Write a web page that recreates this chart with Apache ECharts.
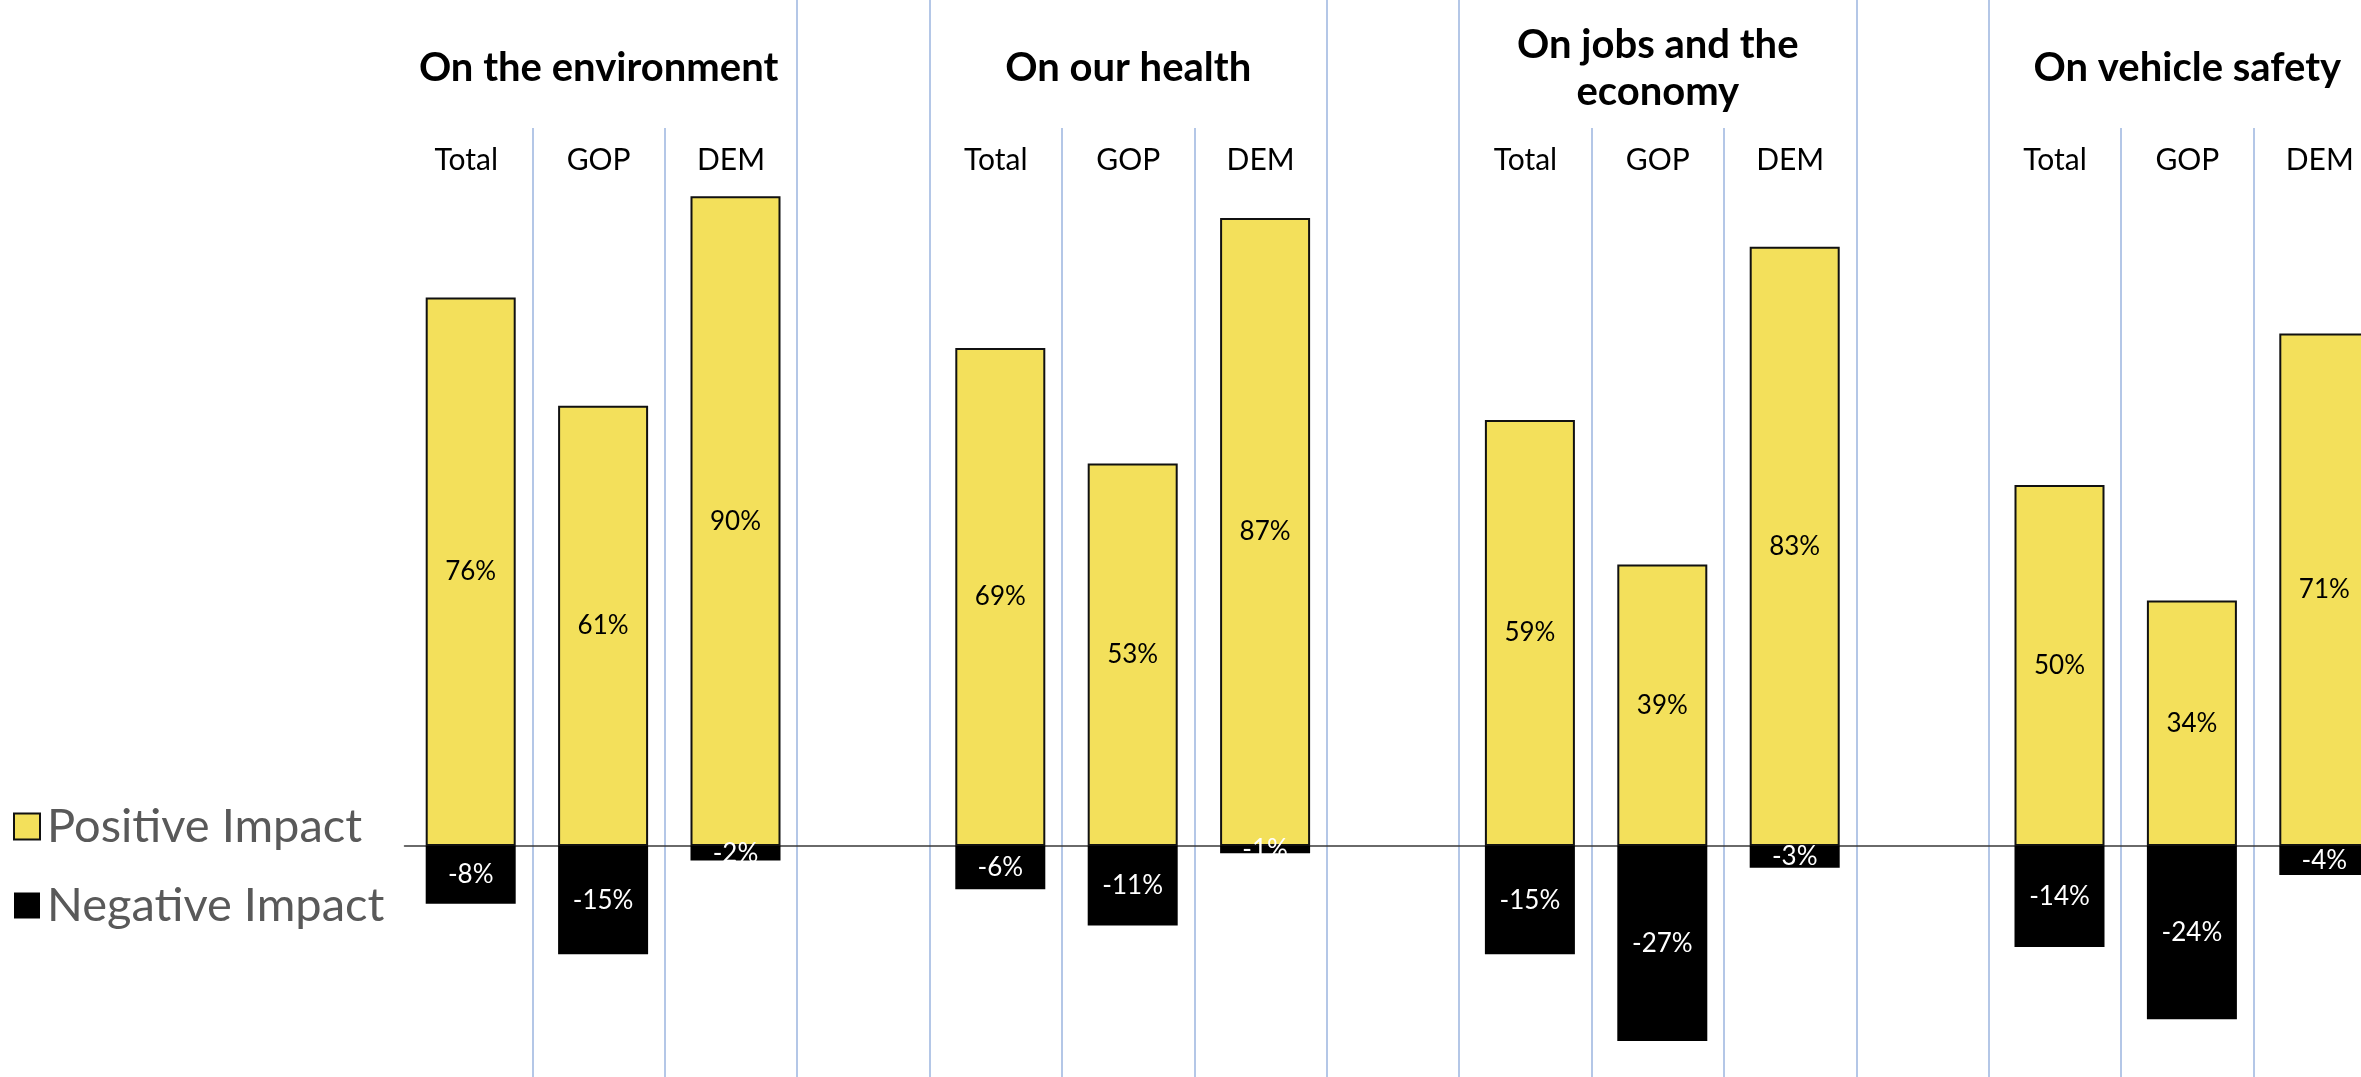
<!DOCTYPE html>
<html>
<head>
<meta charset="utf-8">
<script src="https://cdn.jsdelivr.net/npm/echarts@6/dist/echarts.min.js"></script>
<style>
  html, body { margin: 0; padding: 0; background: #fff; overflow: hidden; }
  /* the last column runs past the right edge of the page */
  #chart { width: 2400px; height: 1077px; }
</style>
</head>
<body>
<div id="chart"></div>
<script>
// Survey results: perceived impact, by topic and by party
const groupTitles = ['On the environment', 'On our health', 'On jobs and the\neconomy', 'On vehicle safety'];
const segments = ['Total', 'GOP', 'DEM'];
const positiveImpact = [[76, 61, 90], [69, 53, 87], [59, 39, 83], [50, 34, 71]];
const negativeImpact = [[-8, -15, -2], [-6, -11, -1], [-15, -27, -3], [-14, -24, -4]];

// Flatten into one category axis: three bars per topic, one empty slot between topics
const categories = [];
const posData = [];
const negData = [];
const headerText = [];
groupTitles.forEach((title, g) => {
  segments.forEach((seg, k) => {
    categories.push(g + '-' + seg);
    posData.push(positiveImpact[g][k]);
    negData.push(negativeImpact[g][k]);
    let txt = '{s|' + seg + '}';
    if (k === 1) {
      const lines = title.split('\n');
      const head = lines.length === 1
        ? '{t1|' + lines[0] + '}'
        : lines.map(l => '{t2|' + l + '}').join('\n');
      txt = head + '\n' + txt;
    }
    headerText.push(txt);
  });
  if (g < groupTitles.length - 1) {
    categories.push('gap-' + g);
    posData.push('-');
    negData.push('-');
    headerText.push('');
  }
});

const FONT = 'Lato';
const DIVIDER = { color: '#B4C7E7', width: 2 };
const pct = p => p.value + '%';

const chart = echarts.init(document.getElementById('chart'), null, { renderer: 'canvas' });
chart.setOption({
  animation: false,
  backgroundColor: '#fff',
  legend: {
    orient: 'vertical',
    left: 8,
    top: 798,
    itemWidth: 26,
    itemHeight: 26,
    itemGap: 32,
    icon: 'rect',
    textStyle: { fontFamily: FONT, fontSize: 47, lineHeight: 46, color: '#595959', padding: [0, 0, 0, 2] },
    data: ['Positive Impact', 'Negative Impact']
  },
  grid: [
    { left: 404.5, top: 0, width: 1986, bottom: 0 },   // bars
    { left: 400, top: 0, width: 1986, bottom: 0 },     // full-height topic dividers
    { left: 400, top: 128, width: 1986, bottom: 0 }    // party dividers and headers
  ],
  xAxis: [
    {
      gridIndex: 0, type: 'category', data: categories,
      axisLine: { onZero: true, lineStyle: { color: '#3a3a3a', width: 1.5 } },
      axisTick: { show: false }, axisLabel: { show: false }, splitLine: { show: false }
    },
    {
      gridIndex: 1, type: 'category', data: categories,
      axisLine: { show: false }, axisTick: { show: false }, axisLabel: { show: false },
      splitLine: { show: true, interval: i => i % 4 === 3 || (i % 4 === 0 && i > 0), lineStyle: DIVIDER }
    },
    {
      gridIndex: 2, type: 'category', data: categories, position: 'top', offset: -76.5,
      axisLine: { show: false }, axisTick: { show: false },
      axisLabel: {
        interval: 0, margin: 0,
        formatter: (v, i) => headerText[i],
        rich: {
          t1: { fontFamily: FONT, fontWeight: 'bold', fontSize: 40, color: '#000', lineHeight: 94 },
          t2: { fontFamily: FONT, fontWeight: 'bold', fontSize: 40, color: '#000', lineHeight: 47 },
          s: { fontFamily: FONT, fontSize: 30, color: '#000', lineHeight: 89 }
        }
      },
      splitLine: { show: true, interval: i => i % 4 === 1 || i % 4 === 2, lineStyle: DIVIDER }
    }
  ],
  yAxis: [
    { gridIndex: 0, type: 'value', min: -32, max: 117.2, show: false },
    { gridIndex: 1, type: 'value', min: 0, max: 1, show: false },
    { gridIndex: 2, type: 'value', min: 0, max: 1, show: false }
  ],
  series: [
    {
      name: 'Positive Impact', type: 'bar', xAxisIndex: 0, yAxisIndex: 0,
      data: posData, barWidth: 90, barGap: '-100%',
      itemStyle: { color: '#F3E05B', borderColor: '#111', borderWidth: 2 },
      label: { show: true, position: 'inside', formatter: pct, fontFamily: FONT, fontSize: 26, color: '#000' }
    },
    {
      name: 'Negative Impact', type: 'bar', xAxisIndex: 0, yAxisIndex: 0,
      data: negData, barWidth: 90, barGap: '-100%',
      itemStyle: { color: '#000' },
      label: { show: true, position: 'inside', formatter: pct, fontFamily: FONT, fontSize: 26, color: '#fff' }
    }
  ]
});
</script>
</body>
</html>
